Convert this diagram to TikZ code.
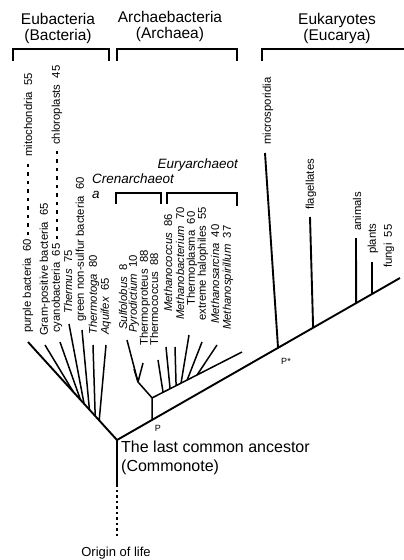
\documentclass[tikz,border=0pt]{standalone}
\usepackage{fontspec}
\setmainfont{Liberation Sans}
\usepackage{tikz}
\usetikzlibrary{calc}

\begin{document}
\begin{tikzpicture}[x=1pt,y=-1pt,
  trunk/.style={line width=1.9pt},
  twig/.style={line width=1.5pt},
  brace/.style={line width=1.4pt},
  taxon/.style={rotate=90,anchor=west,inner sep=0pt,font=\fontsize{11.3}{12}\selectfont},
  group/.style={align=center,inner sep=0pt,font=\fontsize{15.5}{16}\selectfont},
  clade/.style={inner sep=0pt,font=\fontsize{13.5}{15}\selectfont\itshape},
  organelle/.style={line width=2.4pt,dash pattern=on 3.5pt off 5pt}]
  \useasboundingbox (0,0) rectangle (404,560);

  \node[group] (eub) at (58,28) {Eubacteria\\(Bacteria)};
  \node[group] (arc) at (170,26) {Archaebacteria\\(Archaea)};
  \node[group] (euk) at (337,28) {Eukaryotes\\(Eucarya)};
  \draw[brace] (13,61) |- (109,49) -- (109,61);
  \draw[brace] (117,61) |- (237,49) -- (237,61);
  \draw[brace] (262,61) |- (404,49);

  \coordinate (R) at (117,440);
  \coordinate (A) at (28,342);
  \coordinate (F) at (400,278);
  \coordinate (P) at ($(R)!0.124!(F)$);
  \coordinate (Ps) at ($(R)!0.569!(F)$);
  \coordinate (J) at ($(P)+(0,-22)$);
  \coordinate (C) at (138,382);
  \coordinate (E) at (242,352);
  \coordinate (S) at (117,484);
  \coordinate (O) at (117,538);

  \draw[trunk] (A) -- (R) -- (F);
  \draw[trunk] (R) -- (S);
  \draw[trunk,dash pattern=on 2.5pt off 3pt] (S) -- (O);
  \draw[twig] (P) -- (J) -- (E);
  \draw[twig] (J) -- (C);

  \node[taxon] (purple) at (28,333) {purple bacteria~~60};
  \node[taxon] (mito) at (28,157) {mitochondria~~55};
  \draw[organelle] (purple.east) ++(0,-4) -- ($(mito.west)+(0,3)$);
  \foreach \n/\f/\tx/\ty/\lx/\ly/\t in {
    gram/0.49/45/345/45/336/{Gram-positive bacteria~~65},
    cyano/0.41/60/342/57/333/{cyanobacteria~~65},
    thermus/0.37/69/324/68/314/{\textit{Thermus}~~75},
    green/0.31/82/330/81/322/{green non-sulfur bacteria~~60},
    toga/0.245/93/345/94/335/{\textit{Thermotoga}~~80},
    aqui/0.2/106/345/106/335/{\textit{Aquifex}~~65}}{
      \coordinate (b-\n) at ($(R)!\f!(A)$);
      \coordinate (t-\n) at (\tx,\ty);
      \draw[twig] (b-\n) -- (t-\n);
      \node[taxon] (l-\n) at (\lx,\ly) {\t};
  }
  \node[taxon] (chloro) at (57,145) {chloroplasts~~45};
  \draw[organelle] (l-cyano.east) ++(0,-4) -- ($(chloro.west)+(0,3)$);

  \node[clade,anchor=west] (cren) at (92,179) {Crenarchaeot};
  \node[clade,anchor=west] (crena) at (92,195) {a};
  \node[clade,anchor=east] (eury) at (238,165) {Euryarchaeot};
  \draw[brace] (116,204) |- (161,193) -- (161,204);
  \draw[brace] (167,204) |- (237,193) -- (237,206);

  \foreach \n/\tx/\ty/\lx/\ly/\t in {
    sulfo/127/340/123/330/{\textit{Sulfolobus}~~8},
    pyro/134/369/134/333/{\textit{Pyrodictium}~~10},
    proteus/143/363/145/346/{Thermoproteus~~88}}{
      \coordinate (t-\n) at (\tx,\ty);
      \draw[twig] (C) -- (t-\n);
      \node[taxon] (l-\n) at (\lx,\ly) {\t};
  }
  \foreach \n/\f/\tx/\ty/\lx/\ly/\t in {
    coccus/0.122/158/360/154/346/{Thermococcus~~88},
    mcoccus/0.2/166/347/168/312/{\textit{Methanococcus}~~86},
    mbact/0.267/175/347/180/320/{\textit{Methanobacterium}~~70},
    plasma/0.322/189/335/192/306/{Thermoplasma~~60},
    halo/0.39/202/342/203/321/{extreme halophiles~~55},
    sarc/0.5/217/345/215/324/{\textit{Methanosarcina}~~40}}{
      \coordinate (b-\n) at ($(J)!\f!(E)$);
      \coordinate (t-\n) at (\tx,\ty);
      \draw[twig] (b-\n) -- (t-\n);
      \node[taxon] (l-\n) at (\lx,\ly) {\t};
  }
  \node[taxon] (spir) at (228,330) {\textit{Methanospirillum}~~37};

  \foreach \n/\f/\tx/\ty/\lx/\ly/\t in {
    micro/0.569/265/153/268/145/{microsporidia},
    flag/0.693/310/217/311/210/{flagellates},
    anim/0.845/356/238/357/231/{animals},
    plant/0.901/372/262/373/254/{plants}}{
      \coordinate (b-\n) at ($(R)!\f!(F)$);
      \coordinate (t-\n) at (\tx,\ty);
      \draw[trunk] (b-\n) -- (t-\n);
      \node[taxon] (l-\n) at (\lx,\ly) {\t};
  }
  \node[taxon] (fungi) at (389,268) {fungi~~55};

  \node[inner sep=0pt,font=\fontsize{9}{9}\selectfont] (plab) at (158,428) {P};
  \node[inner sep=0pt,font=\fontsize{9}{9}\selectfont] (pslab) at (286,361) {P*};
  \node[anchor=north west,align=left,inner sep=0pt,font=\fontsize{16}{19}\selectfont] (lca) at (121,441) {The last common ancestor\\(Commonote)};
  \node[inner sep=0pt,font=\fontsize{13}{13}\selectfont] (origin) at (116,553) {Origin of life};
\end{tikzpicture}
\end{document}
